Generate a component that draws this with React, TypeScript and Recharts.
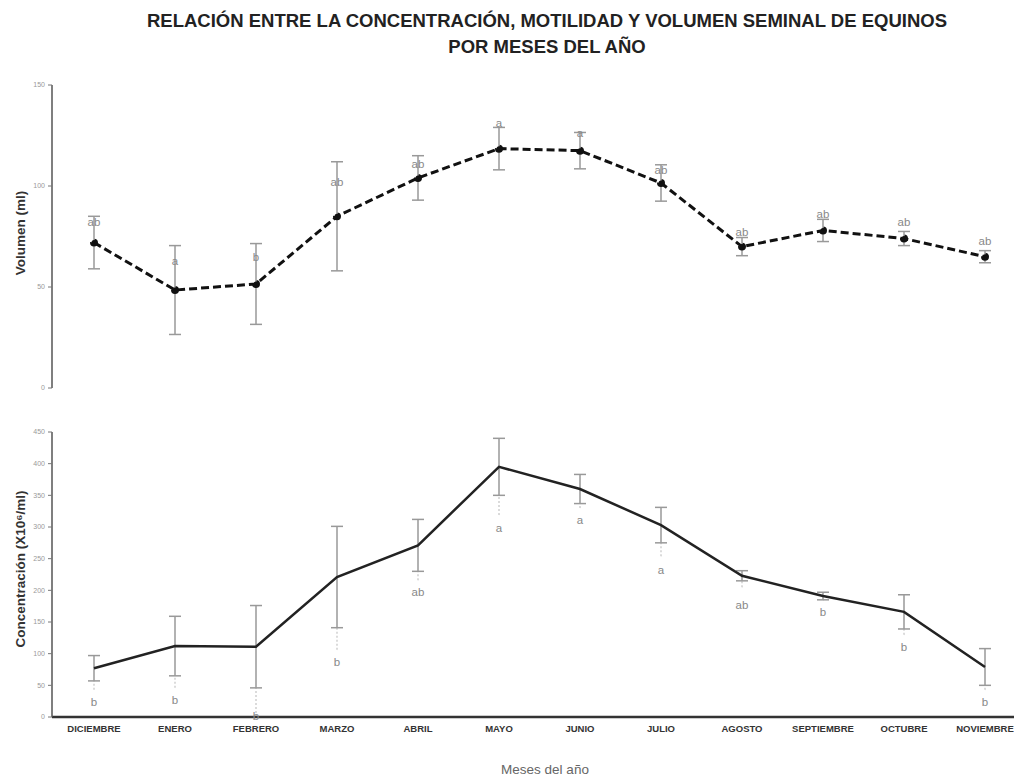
import React from 'react';
import { LineChart, Line, XAxis, YAxis, ErrorBar, LabelList } from 'recharts';

const months = ['DICIEMBRE', 'ENERO', 'FEBRERO', 'MARZO', 'ABRIL', 'MAYO', 'JUNIO', 'JULIO', 'AGOSTO', 'SEPTIEMBRE', 'OCTUBRE', 'NOVIEMBRE'];

const volumen = [72, 48.5, 51.5, 85, 104, 118.5, 117.5, 101.5, 70, 78, 74, 65];
const volumenErr = [13, 22, 20, 27, 11, 10.5, 9, 9, 4.5, 5.5, 3.5, 3];
const volumenLetters = ['ab', 'a', 'b', 'ab', 'ab', 'a', 'a', 'ab', 'ab', 'ab', 'ab', 'ab'];
const volumenLetterPos = [82, 63, 65, 102, 111, 131, 126, 108, 77, 86, 82, 73];

const concentracion = [77, 112, 111, 221, 271, 395, 360, 303, 223, 191, 166, 79];
const concErr = [20, 47, 65, 80, 41, 45, 23, 28, 8, 6, 27, 29];
const concExtLow = [43, 46, 0, 106, 216, 319, 330, 254, 205, 185, 130, 43];
const concLetters = ['b', 'b', 'b', 'b', 'ab', 'a', 'a', 'a', 'ab', 'b', 'b', 'b'];
const concLetterPos = [24, 27, 2, 87, 197, 298, 311, 232, 177, 166, 110, 24];

const volTicks = [0, 50, 100, 150];
const concTicks = [0, 50, 100, 150, 200, 250, 300, 350, 400, 450];

const volData = months.map((m, i) => ({
  month: m,
  value: volumen[i],
  err: volumenErr[i],
  letter: volumenLetters[i],
  letterPos: volumenLetterPos[i],
}));

const concData = months.map((m, i) => ({
  month: m,
  value: concentracion[i],
  err: concErr[i],
  extBase: concentracion[i] - concErr[i],
  extErr: [concentracion[i] - concErr[i] - concExtLow[i], 0],
  letter: concLetters[i],
  letterPos: concLetterPos[i],
}));

const FONT = '"Liberation Sans", Arial, sans-serif';
const xPad = { left: 42, right: 29 };

const tickStyle = { fontSize: 7, fill: '#999', fontFamily: FONT };

const LetterLabel = (props: any) => {
  const { x, y, value } = props;
  return (
    <text x={x} y={y} textAnchor="middle" dominantBaseline="central" fontSize={11.5} fill="#888" fontFamily={FONT}>
      {value}
    </text>
  );
};

export default function App() {
  return (
    <div style={{ position: 'absolute', left: 0, top: 0, width: 1014, height: 777, background: '#fff', fontFamily: FONT }}>
      <div style={{ position: 'absolute', left: 0, top: 8, width: 1094, textAlign: 'center', fontSize: 18.5, fontWeight: 'bold', color: '#222', lineHeight: '26px' }}>
        RELACIÓN ENTRE LA CONCENTRACIÓN, MOTILIDAD Y VOLUMEN SEMINAL DE EQUINOS
        <br />
        POR MESES DEL AÑO
      </div>

      <div style={{ position: 'absolute', left: 0, top: 0 }}>
        <LineChart width={1014} height={400} data={volData} margin={{ top: 85, right: 0, bottom: 12, left: 0 }}>
          <XAxis dataKey="month" hide scale="point" padding={xPad} />
          <YAxis
            width={52}
            domain={[0, 150]}
            ticks={volTicks}
            tick={tickStyle}
            tickSize={4}
            tickMargin={3}
            axisLine={{ stroke: '#555', strokeWidth: 1.5 }}
            tickLine={{ stroke: '#777' }}
          />
          <Line
            dataKey="value"
            stroke="#111"
            strokeWidth={3}
            strokeDasharray="8 4"
            dot={{ r: 2.5, fill: '#111', stroke: '#111' }}
            activeDot={false}
            isAnimationActive={false}
          >
            <ErrorBar dataKey="err" width={6} stroke="#999" strokeWidth={1.5} />
          </Line>
          <Line dataKey="letterPos" stroke="none" dot={false} activeDot={false} isAnimationActive={false}>
            <LabelList dataKey="letter" content={LetterLabel} />
          </Line>
        </LineChart>
      </div>

      <div style={{ position: 'absolute', left: 0, top: 400 }}>
        <LineChart width={1014} height={377} data={concData} margin={{ top: 32, right: 0, bottom: 35, left: 0 }}>
          <XAxis
            dataKey="month"
            scale="point"
            padding={xPad}
            interval={0}
            height={25}
            tickLine={false}
            tickSize={6}
            tickMargin={2}
            axisLine={{ stroke: '#333', strokeWidth: 2.5 }}
            tick={{ fontSize: 9.5, fontWeight: 'bold', fill: '#333', fontFamily: FONT }}
          />
          <YAxis
            width={52}
            domain={[0, 450]}
            ticks={concTicks}
            allowDataOverflow
            tick={tickStyle}
            tickSize={4}
            tickMargin={3}
            axisLine={{ stroke: '#555', strokeWidth: 1.5 }}
            tickLine={{ stroke: '#777' }}
          />
          <Line dataKey="extBase" stroke="none" dot={false} activeDot={false} isAnimationActive={false}>
            <ErrorBar dataKey="extErr" width={0} stroke="#c4c4c4" strokeWidth={1.2} strokeDasharray="2 2" />
          </Line>
          <Line
            dataKey="value"
            stroke="#222"
            strokeWidth={2.5}
            dot={false}
            activeDot={false}
            isAnimationActive={false}
          >
            <ErrorBar dataKey="err" width={6} stroke="#999" strokeWidth={1.5} />
          </Line>
          <Line dataKey="letterPos" stroke="none" dot={false} activeDot={false} isAnimationActive={false}>
            <LabelList dataKey="letter" content={LetterLabel} />
          </Line>
        </LineChart>
      </div>

      <svg style={{ position: 'absolute', left: 0, top: 0, pointerEvents: 'none' }} width={1014} height={777}>
        <text x={20} y={233} transform="rotate(-90 20 233)" textAnchor="middle" dominantBaseline="central" fontSize={13.5} fontWeight="bold" fill="#333" fontFamily={FONT}>
          Volumen (ml)
        </text>
        <text x={20} y={569} transform="rotate(-90 20 569)" textAnchor="middle" dominantBaseline="central" fontSize={13.5} fontWeight="bold" fill="#333" fontFamily={FONT}>
          Concentración (X10⁶/ml)
        </text>
        <text x={545} y={769} textAnchor="middle" dominantBaseline="central" fontSize={13.5} fill="#666" fontFamily={FONT}>
          Meses del año
        </text>
      </svg>
    </div>
  );
}
